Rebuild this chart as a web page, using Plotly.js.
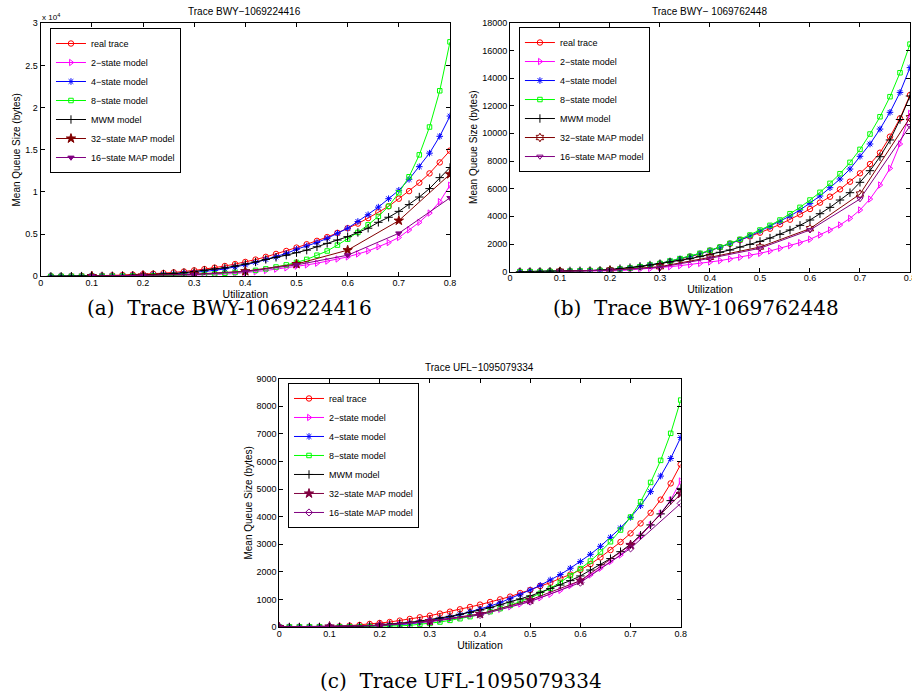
<!DOCTYPE html>
<html>
<head>
<meta charset="utf-8">
<script src="https://cdn.plot.ly/plotly-3.0.1.min.js"></script>
<style>html,body{margin:0;padding:0;background:#fff;}#chart{width:912px;height:700px;}</style>
</head>
<body>
<div id="chart"></div>
<script>
// ---------- data ----------
const util40 = [0.02,0.04,0.06,0.08,0.10,0.12,0.14,0.16,0.18,0.20,0.22,0.24,0.26,0.28,0.30,0.32,0.34,0.36,0.38,0.40,0.42,0.44,0.46,0.48,0.50,0.52,0.54,0.56,0.58,0.60,0.62,0.64,0.66,0.68,0.70,0.72,0.74,0.76,0.78,0.80];
const util41 = [0,0.02,0.04,0.06,0.08,0.10,0.12,0.14,0.16,0.18,0.20,0.22,0.24,0.26,0.28,0.30,0.32,0.34,0.36,0.38,0.40,0.42,0.44,0.46,0.48,0.50,0.52,0.54,0.56,0.58,0.60,0.62,0.64,0.66,0.68,0.70,0.72,0.74,0.76,0.78,0.80];
const utilMap = [0.1,0.2,0.3,0.4,0.5,0.6,0.7,0.8];
const utilMapC = [0,0.1,0.2,0.3,0.4,0.5,0.6,0.7,0.8];

const seriesNames = ["real trace","2\u2212state model","4\u2212state model","8\u2212state model","MWM model","32\u2212state MAP model","16\u2212state MAP model"];
const chartTitles = ["Trace BWY\u22121069224416","Trace BWY\u2212 1069762448","Trace UFL\u22121095079334"];
const captions = ["(a)  Trace BWY-1069224416","(b)  Trace BWY-1069762448","(c)  Trace UFL-1095079334"];

// (a) BWY-1069224416
const realA  = [5,10,20,35,55,80,110,150,190,240,300,370,460,560,700,850,1020,1220,1450,1700,1980,2300,2650,3000,3400,3800,4200,4650,5150,5700,6250,6900,7600,8300,9200,10100,11100,12200,13500,14900];
const twoA   = [1,2,3,5,8,12,16,22,30,40,52,66,85,105,130,165,205,260,330,420,530,680,850,1000,1200,1350,1550,1800,2050,2300,2650,3000,3500,4000,4600,5500,6400,7500,8850,10800];
const fourA  = [2,5,10,15,25,35,50,70,95,130,170,220,290,370,460,560,700,880,1100,1350,1650,2000,2300,2700,3200,3600,4000,4500,5100,5700,6500,7300,8200,9200,10200,11500,13000,14600,16600,19000];
const eightA = [1,2,4,7,10,15,20,30,40,55,70,90,115,145,180,230,290,360,450,560,700,880,1100,1350,1650,2000,2500,3000,3700,4400,5200,6100,7100,8300,9900,11800,14400,17700,22000,27800];
const mwmA   = [3,6,12,20,30,45,65,90,120,160,210,270,340,430,550,700,870,1000,1200,1450,1700,2000,2250,2500,2800,3100,3500,3900,4300,4700,5200,5700,6400,7000,7700,8500,9400,10400,11700,12900];
const map32A = [30,100,250,600,1450,3100,6600,12100];
const map16A = [25,80,200,550,1350,2500,5100,9300];

// (b) BWY-1069762448
const realB  = [3,6,12,20,30,42,58,78,100,130,190,260,350,460,580,720,890,1085,1280,1520,1760,2020,2290,2550,2820,3110,3420,3760,4140,4530,4990,5420,5950,6505,7110,7780,8600,9760,11080,12770];
const twoB   = [1,2,3,5,8,12,18,25,35,48,72,120,170,215,290,360,435,505,600,700,795,915,1035,1180,1325,1495,1690,1880,2100,2340,2650,3010,3375,3855,4460,5250,6265,7470,9230,11440];
const fourB  = [3,6,12,20,30,42,58,78,100,130,195,270,365,480,600,760,930,1100,1300,1520,1760,2020,2290,2580,2940,3250,3615,4020,4460,4940,5470,6070,6700,7420,8340,9230,10310,11520,12960,14750];
const eightB = [2,5,10,18,28,40,55,75,95,120,190,265,360,480,600,770,940,1110,1325,1540,1780,2050,2340,2650,3010,3350,3735,4190,4650,5180,5735,6385,7080,7900,8840,9950,11200,12650,14380,16450];
const mwmB   = [5,10,18,30,45,55,65,80,100,145,215,290,385,480,580,700,820,940,1085,1250,1400,1565,1780,1975,2190,2430,2700,3010,3350,3735,4190,4650,5180,5710,6460,7300,8310,9520,11000,12700];
const map32B = [30,110,360,1035,1780,3110,5610,11130];
const map16B = [25,100,310,965,1690,3010,5250,10530];

// (c) UFL-1095079334
const realC  = [0,1,2,3,5,12,24,48,72,110,145,180,230,290,350,410,485,555,640,725,810,905,1000,1100,1230,1340,1485,1605,1765,1900,2070,2280,2525,2790,3080,3395,3755,4140,4615,5205,5895];
const twoC   = [0,0,1,1,2,3,5,8,12,25,40,60,85,120,155,195,240,290,350,410,485,555,640,735,835,940,1060,1185,1330,1500,1680,1885,2130,2370,2610,2940,3300,3700,4120,4600,5290];
const fourC  = [0,1,2,3,5,8,12,15,20,28,40,60,85,120,170,230,290,360,445,545,640,760,880,1025,1170,1340,1510,1705,1900,2130,2370,2635,2925,3250,3590,3975,4395,4905,5470,6110,6870];
const eightC = [0,1,2,3,4,5,7,9,12,16,20,28,40,60,95,130,180,240,300,375,460,555,665,785,920,1060,1220,1400,1620,1860,2115,2390,2720,3090,3515,3985,4540,5240,6040,7020,8225];
const mwmC   = [0,1,1,2,3,6,10,18,30,48,72,95,130,170,215,265,325,385,460,530,615,700,800,905,1015,1125,1255,1390,1520,1680,1850,2065,2260,2480,2730,3000,3325,3700,4100,4580,5025];
const map32C = [0,20,60,215,470,980,1680,2975,4820];
const map16C = [0,15,50,195,435,920,1610,2850,4480];

const yTicksA = [0,5000,10000,15000,20000,25000,30000];
const yTickTextA = ["0","0.5","1","1.5","2","2.5","3"];
const yTicksB = [0,2000,4000,6000,8000,10000,12000,14000,16000,18000];
const yTicksC = [0,1000,2000,3000,4000,5000,6000,7000,8000,9000];
const xTicks = [0,0.1,0.2,0.3,0.4,0.5,0.6,0.7,0.8];

// ---------- styling ----------
const FONT = "Liberation Sans, Arial, Helvetica, sans-serif";
const SERIF = "DejaVu Serif, Liberation Serif, serif";
const traces = [];
function addTrace(x, y, name, color, symbol, msize, axN, legendId) {
  traces.push({
    type: "scatter", mode: "lines+markers", x: x, y: y, name: name,
    xaxis: axN === 1 ? "x" : "x" + axN, yaxis: axN === 1 ? "y" : "y" + axN,
    legend: legendId,
    line: {color: color, width: 1},
    marker: {symbol: symbol, size: msize, color: color, line: {color: color, width: 1}}
  });
}
// (a)
addTrace(util40, realA,  seriesNames[0], "#ff0000", "circle-open", 5.5, 1, "legend");
addTrace(util40, twoA,   seriesNames[1], "#ff00ff", "triangle-right-open", 5.5, 1, "legend");
addTrace(util40, fourA,  seriesNames[2], "#0000ff", "asterisk-open", 5.5, 1, "legend");
addTrace(util40, eightA, seriesNames[3], "#00ff00", "square-open", 4.5, 1, "legend");
addTrace(util40, mwmA,   seriesNames[4], "#000000", "cross-thin-open", 6, 1, "legend");
addTrace(utilMap, map32A, seriesNames[5], "#800000", "star", 7, 1, "legend");
addTrace(utilMap, map16A, seriesNames[6], "#800080", "triangle-down", 5.5, 1, "legend");
// (b)
addTrace(util40, realB,  seriesNames[0], "#ff0000", "circle-open", 5.5, 2, "legend2");
addTrace(util40, twoB,   seriesNames[1], "#ff00ff", "triangle-right-open", 5.5, 2, "legend2");
addTrace(util40, fourB,  seriesNames[2], "#0000ff", "asterisk-open", 5.5, 2, "legend2");
addTrace(util40, eightB, seriesNames[3], "#00ff00", "square-open", 4.5, 2, "legend2");
addTrace(util40, mwmB,   seriesNames[4], "#000000", "cross-thin-open", 6, 2, "legend2");
addTrace(utilMap, map32B, seriesNames[5], "#800000", "hexagram-open", 6.5, 2, "legend2");
addTrace(utilMap, map16B, seriesNames[6], "#800080", "triangle-down-open", 5.5, 2, "legend2");
// (c)
addTrace(util41, realC,  seriesNames[0], "#ff0000", "circle-open", 5.5, 3, "legend3");
addTrace(util41, twoC,   seriesNames[1], "#ff00ff", "triangle-right-open", 5.5, 3, "legend3");
addTrace(util41, fourC,  seriesNames[2], "#0000ff", "asterisk-open", 5.5, 3, "legend3");
addTrace(util41, eightC, seriesNames[3], "#00ff00", "square-open", 4.5, 3, "legend3");
addTrace(util41, mwmC,   seriesNames[4], "#000000", "cross-thin-open", 6, 3, "legend3");
addTrace(utilMapC, map32C, seriesNames[5], "#800040", "star", 7, 3, "legend3");
addTrace(utilMapC, map16C, seriesNames[6], "#800080", "diamond-open", 5.5, 3, "legend3");

function xAxis(domain, anchor) {
  return {domain: domain, anchor: anchor, range: [0, 0.8], tickvals: xTicks, ticktext: xTicks.map(String),
    showline: true, mirror: "ticks", linecolor: "#000", linewidth: 1, ticks: "inside", ticklen: 4, tickcolor: "#000",
    showgrid: false, zeroline: false, ticklabeloverflow: "allow", ticklabelstandoff: -2,
    tickfont: {family: FONT, size: 9, color: "#000"},
    title: {text: "Utilization", font: {family: FONT, size: 10.5, color: "#000"}, standoff: 0}};
}
function yAxis(domain, anchor, range, tv, tt) {
  return {domain: domain, anchor: anchor, range: range, tickvals: tv, ticktext: tt,
    showline: true, mirror: "ticks", linecolor: "#000", linewidth: 1, ticks: "inside", ticklen: 4, tickcolor: "#000",
    showgrid: false, zeroline: false, tickfont: {family: FONT, size: 9, color: "#000"},
    title: {text: "Mean Queue Size (bytes)", font: {family: FONT, size: 10, color: "#000"}, standoff: 2}};
}
function legendBox(x, y) {
  return {x: x, y: y, xanchor: "left", yanchor: "top", bgcolor: "#fff", bordercolor: "#000", borderwidth: 1,
    font: {family: FONT, size: 9, color: "#000"}, itemwidth: 30, tracegroupgap: 0};
}
function ann(text, x, y, size, family, xanchor) {
  return {text: text, x: x, y: y, xref: "paper", yref: "paper", showarrow: false, xanchor: xanchor || "center", yanchor: "middle",
    font: {family: family || FONT, size: size, color: "#000"}};
}

const layout = {
  width: 912, height: 700, margin: {l: 0, r: 0, t: 0, b: 0}, paper_bgcolor: "#fff", plot_bgcolor: "#fff",
  showlegend: true,
  xaxis: xAxis([0.0446, 0.4934], "y"),
  yaxis: yAxis([0.6053, 0.9667], "x", [0, 30000], yTicksA, yTickTextA),
  xaxis2: xAxis([0.5592, 0.9978], "y2"),
  yaxis2: yAxis([0.6119, 0.9676], "x2", [0, 18000], yTicksB, yTicksB.map(String)),
  xaxis3: xAxis([0.3063, 0.7464], "y3"),
  yaxis3: yAxis([0.1043, 0.4590], "x3", [0, 9000], yTicksC, yTicksC.map(String)),
  legend: legendBox(0.0548, 0.960),
  legend2: legendBox(0.569, 0.9614),
  legend3: legendBox(0.3158, 0.4529),
  annotations: [
    ann(chartTitles[0], 0.2686, 0.9829, 10),
    ann(chartTitles[1], 0.7785, 0.9829, 10),
    ann(chartTitles[2], 0.5263, 0.4757, 10),
    ann("x 10<sup>4</sup>", 0.0439, 0.9757, 8, FONT, "left"),
    ann(captions[0], 0.2511, 0.5593, 20, SERIF),
    ann(captions[1], 0.7632, 0.5593, 20, SERIF),
    ann(captions[2], 0.5060, 0.0271, 20, SERIF)
  ]
};
Plotly.newPlot("chart", traces, layout, {staticPlot: true, displayModeBar: false});
</script>
</body>
</html>
